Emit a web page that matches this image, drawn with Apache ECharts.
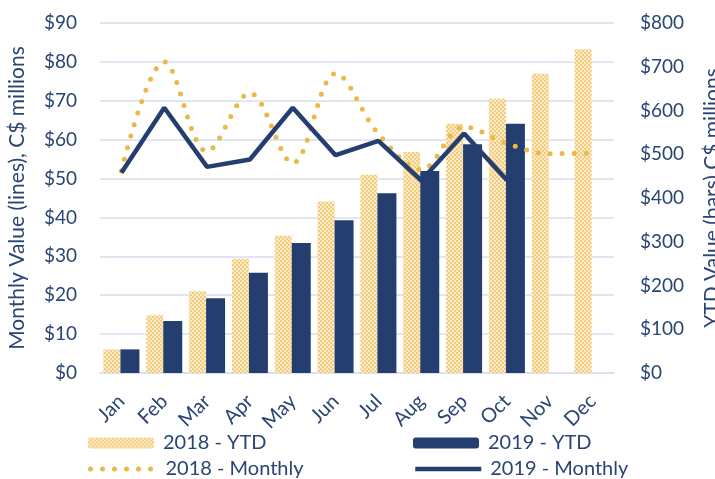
<!DOCTYPE html>
<html>
<head>
<meta charset="utf-8">
<script src="https://cdn.jsdelivr.net/npm/echarts@6/dist/echarts.min.js"></script>
<style>
  html, body { margin: 0; padding: 0; background: #fff; }
  #chart { width: 715px; height: 479px; }
</style>
</head>
<body>
<div id="chart"></div>
<script>
// data
var months = ["Jan", "Feb", "Mar", "Apr", "May", "Jun", "Jul", "Aug", "Sep", "Oct", "Nov", "Dec"]
var ytd2018 = [54, 132, 187, 261, 314, 392, 453, 505, 570, 627, 684, 740]
var ytd2019 = [54, 119, 171, 229, 297, 349, 411, 462, 523, 570, null, null]
var monthly2018 = [52, 80, 57, 72, 54, 77, 61.5, 52.3, 63.3, 59, 56.4, 56.5]
var monthly2019 = [51.5, 68.2, 53, 54.9, 68.2, 56, 59.7, 49.5, 61.6, 49.6]

var navy = "#243f6f"
var gold = "#ebb84a"
var textColor = "#2a4574"
var font = "Lato"

// checkered fill like the excel pattern
var tile = document.createElement("canvas")
tile.width = 4
tile.height = 4
var ctx = tile.getContext("2d")
ctx.fillStyle = "#fcebc6"
ctx.fillRect(0, 0, 4, 4)
ctx.fillStyle = "#f3cc80"
ctx.fillRect(0, 0, 2, 2)
ctx.fillRect(2, 2, 2, 2)
var checker = { image: tile, repeat: "repeat" }

var dotted = { color: gold, width: 5, type: [0, 12], cap: "round" }
var solid = { color: navy, width: 4.5 }

function legendAt(left, top, name, line) {
  var lg = {
    left: left,
    top: top,
    data: [name],
    itemWidth: 66,
    itemHeight: 11,
    itemGap: 0,
    selectedMode: false,
    textStyle: { fontFamily: font, fontSize: 20, color: textColor, padding: [0, 0, 0, 4] }
  }
  if (line) {
    lg.itemStyle = { opacity: 0 }
    lg.lineStyle = line
  }
  return lg
}

var chart = echarts.init(document.getElementById("chart"))

chart.setOption({
  animation: false,
  textStyle: { fontFamily: font },
  grid: { left: 100, right: 101, top: 23, bottom: 106, outerBoundsMode: "none" },
  legend: [
    legendAt(83, 428, "2018 - YTD"),
    legendAt(83, 454, "2018 - Monthly", dotted),
    legendAt(408, 428, "2019 - YTD"),
    legendAt(408, 454, "2019 - Monthly", solid)
  ],
  xAxis: {
    type: "category",
    data: months,
    axisLine: { lineStyle: { color: "#d6dfee", width: 1.5 } },
    axisTick: { show: false },
    axisLabel: { rotate: 45, margin: 25, fontSize: 20, color: textColor, fontFamily: font }
  },
  yAxis: [
    {
      type: "value",
      min: 0,
      max: 90,
      interval: 10,
      name: "Monthly Value (lines), C$ millions",
      nameLocation: "middle",
      nameGap: 72,
      nameTextStyle: { fontSize: 21, color: textColor, fontFamily: font },
      axisLabel: {
        margin: 23,
        fontSize: 19,
        color: textColor,
        fontFamily: font,
        formatter: function (v) { return "$" + v }
      },
      splitLine: { lineStyle: { color: "#d6dfee", width: 1.5 } }
    },
    {
      type: "value",
      min: 0,
      max: 800,
      interval: 100,
      name: "YTD Value (bars) C$ millions",
      nameLocation: "middle",
      nameGap: 88,
      nameTextStyle: { fontSize: 21, color: textColor, fontFamily: font },
      axisLabel: {
        margin: 26,
        fontSize: 19,
        color: textColor,
        fontFamily: font,
        formatter: function (v) { return "$" + v }
      },
      splitLine: { show: false }
    }
  ],
  series: [
    {
      name: "2018 - YTD",
      type: "bar",
      yAxisIndex: 1,
      data: ytd2018,
      barWidth: 17,
      barGap: "0%",
      itemStyle: { color: checker }
    },
    {
      name: "2019 - YTD",
      type: "bar",
      yAxisIndex: 1,
      data: ytd2019,
      barWidth: 19,
      barGap: "0%",
      itemStyle: { color: navy }
    },
    {
      name: "2018 - Monthly",
      type: "line",
      data: monthly2018,
      smooth: 0.35,
      symbol: "none",
      lineStyle: dotted,
      itemStyle: { color: gold }
    },
    {
      name: "2019 - Monthly",
      type: "line",
      data: monthly2019,
      symbol: "none",
      lineStyle: solid,
      itemStyle: { color: navy }
    }
  ]
})
</script>
</body>
</html>
